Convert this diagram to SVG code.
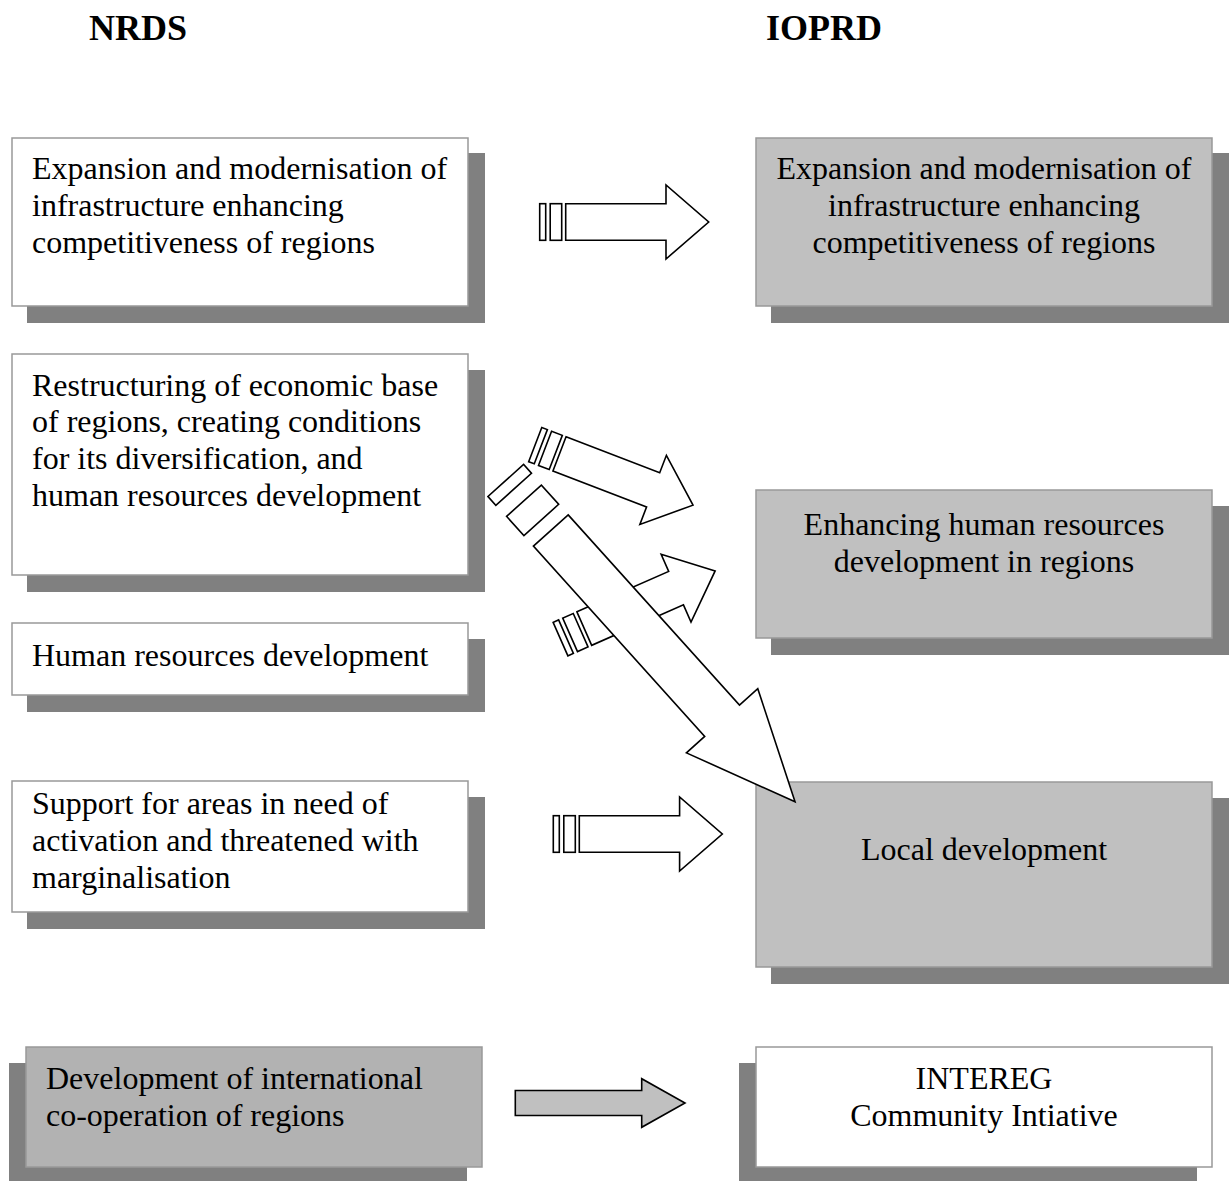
<svg xmlns="http://www.w3.org/2000/svg" width="1231" height="1181" viewBox="0 0 1231 1181">
<style>
.t{font-family:"Liberation Serif","Times New Roman",serif;font-size:32px;fill:#000}
.c{text-anchor:middle}
.h{font-family:"Liberation Serif","Times New Roman",serif;font-size:36px;font-weight:bold;fill:#000}
.sh{fill:#808080}
.bw{fill:#fff;stroke:#999;stroke-width:1.5}
.bg{fill:#c0c0c0;stroke:#999;stroke-width:1.5}
.bd{fill:#b2b2b2;stroke:#999;stroke-width:1.5}
.ar{fill:#fff;stroke:#000;stroke-width:1.6;stroke-linejoin:miter}
.ag{fill:#c0c0c0;stroke:#000;stroke-width:1.6}
</style>
<defs>
<g id="std">
<rect class="ar" x="-26" y="-18.3" width="6" height="36.6"/>
<rect class="ar" x="-15.5" y="-18.3" width="11.5" height="36.6"/>
<path class="ar" d="M0,-18.3 H100.3 V-37 L143,0 L100.3,37 V18.3 H0 Z"/>
</g>
</defs>
<rect width="1231" height="1181" fill="#fff"/>
<text class="h" x="89" y="40">NRDS</text>
<text class="h" x="766" y="40">IOPRD</text>

<g id="n1">
<rect class="sh" x="27" y="153" width="458" height="170"/>
<rect class="bw" x="12" y="138" width="456" height="168"/>
<text class="t" x="32" y="179">Expansion and modernisation of</text>
<text class="t" x="32" y="216">infrastructure enhancing</text>
<text class="t" x="32" y="253">competitiveness of regions</text>
</g>
<g id="n2">
<rect class="sh" x="771" y="153" width="458" height="170"/>
<rect class="bg" x="756" y="138" width="456" height="168"/>
<text class="t c" x="984" y="179">Expansion and modernisation of</text>
<text class="t c" x="984" y="216">infrastructure enhancing</text>
<text class="t c" x="984" y="253">competitiveness of regions</text>
</g>
<g id="n3">
<rect class="sh" x="27" y="370" width="458" height="222"/>
<rect class="bw" x="12" y="354" width="456" height="221"/>
<text class="t" x="32" y="396">Restructuring of economic base</text>
<text class="t" x="32" y="432">of regions, creating conditions</text>
<text class="t" x="32" y="469">for its diversification, and</text>
<text class="t" x="32" y="506">human resources development</text>
</g>
<g id="n4">
<rect class="sh" x="27" y="639" width="458" height="73"/>
<rect class="bw" x="12" y="623" width="456" height="72"/>
<text class="t" x="32" y="666">Human resources development</text>
</g>
<g id="n5">
<rect class="sh" x="27" y="797" width="458" height="132"/>
<rect class="bw" x="12" y="781" width="456" height="131"/>
<text class="t" x="32" y="814">Support for areas in need of</text>
<text class="t" x="32" y="851">activation and threatened with</text>
<text class="t" x="32" y="888">marginalisation</text>
</g>
<g id="n6">
<rect class="sh" x="771" y="506" width="458" height="149"/>
<rect class="bg" x="756" y="490" width="456" height="148"/>
<text class="t c" x="984" y="535">Enhancing human resources</text>
<text class="t c" x="984" y="572">development in regions</text>
</g>
<g id="n7">
<rect class="sh" x="771" y="798" width="458" height="186"/>
<rect class="bg" x="756" y="782" width="456" height="185"/>
<text class="t c" x="984" y="860">Local development</text>
</g>
<g id="n8">
<rect class="sh" x="9" y="1063" width="458" height="118"/>
<rect class="bd" x="26" y="1047" width="456" height="120"/>
<text class="t" x="46" y="1089">Development of international</text>
<text class="t" x="46" y="1126">co-operation of regions</text>
</g>
<g id="n9">
<rect class="sh" x="739" y="1063" width="458" height="118"/>
<rect class="bw" x="756" y="1047" width="456" height="120"/>
<text class="t c" x="984" y="1089">INTEREG</text>
<text class="t c" x="984" y="1126">Community Intiative</text>
</g>

<g id="connectors">
<use href="#std" transform="translate(565.7,222)"/>
<use href="#std" transform="translate(559.5,453.9) rotate(21)"/>
<use href="#std" transform="translate(584.3,628.6) rotate(-23.8)"/>
<g transform="translate(550.8,530.5) rotate(48)">
<rect class="ar" x="-67.3" y="-24" width="11.8" height="48"/>
<rect class="ar" x="-40.1" y="-23.4" width="25.9" height="46.8"/>
<path class="ar" d="M0,-23.4 H256 V-48 L365,0 L256,48 V23.4 H0 Z"/>
</g>
<use href="#std" transform="translate(579.3,834)"/>
<path class="ag" d="M515.3,1090.5 H641.7 V1078.7 L685,1103 L641.7,1127.3 V1115.5 H515.3 Z"/>
</g>
</svg>
